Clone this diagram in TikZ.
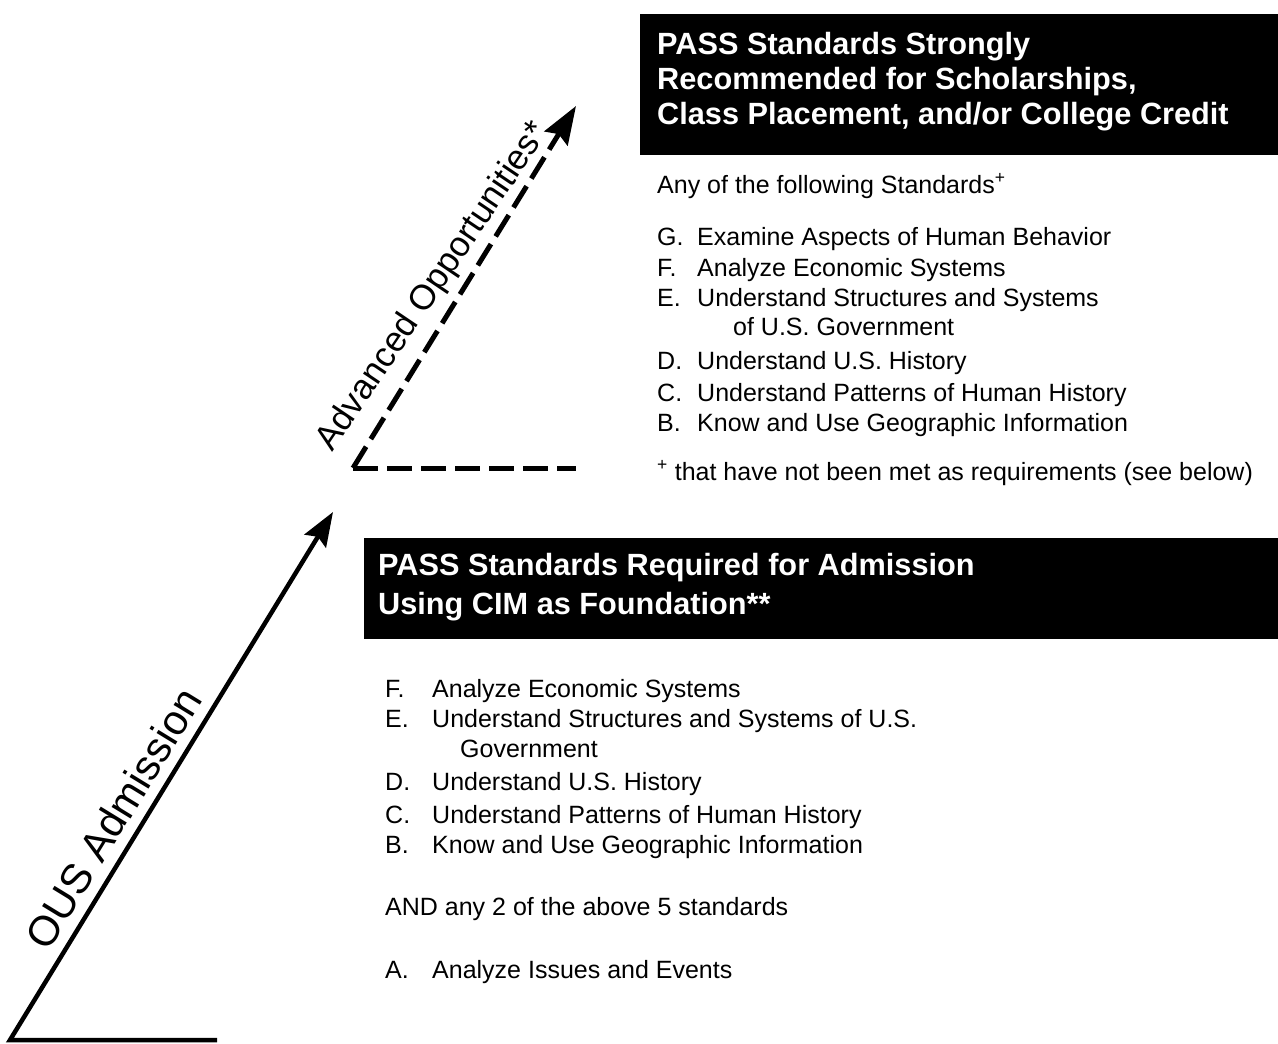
\documentclass[tikz,border=0pt]{standalone}
\usepackage{fontspec}
\setmainfont{Liberation Sans}
\usetikzlibrary{arrows.meta}
\begin{document}
\begin{tikzpicture}[x=1pt,y=-1pt,
  txt/.style={anchor=base west, inner sep=0pt, font=\fontsize{25}{31}\selectfont},
  hdr/.style={anchor=base west, inner sep=0pt, text=white, font=\bfseries\fontsize{30.7}{35}\selectfont},
  blackbox/.style={fill=black, draw=none, anchor=north west, inner sep=0pt},
  solidarrow/.style={line width=4.5pt, line join=miter, -{Stealth[length=34pt,width=25pt,inset=5pt]}},
  dashline/.style={line width=5pt, dash pattern=on 25pt off 9pt},
  dasharrow/.style={dashline, -{Stealth[length=38pt,width=27pt,inset=5pt]}},
  rotlabel/.style={anchor=base, inner sep=0pt}
]
\useasboundingbox (0,0) rectangle (1278,1044);

% black header boxes
\node[blackbox, minimum width=638pt, minimum height=141pt] (box1) at (640,14) {};
\node[blackbox, minimum width=914pt, minimum height=101pt] (box2) at (364,538) {};

% top header
\node[hdr] (h1a) at (657,54) {PASS Standards Strongly};
\node[hdr] (h1b) at (657,89) {Recommended for Scholarships,};
\node[hdr] (h1c) at (657,124) {Class Placement, and/or College Credit};

% bottom header
\node[hdr] (h2a) at (378,575) {PASS Standards Required for Admission};
\node[hdr] (h2b) at (378,614) {Using CIM as Foundation**};

% top list
\node[txt] (any) at (657,193) {Any of the following Standards\textsuperscript{+}};
\node[txt] (tGl) at (657,245) {G.};
\node[txt] (tG)  at (697,245) {Examine Aspects of Human Behavior};
\node[txt] (tFl) at (657,276) {F.};
\node[txt] (tF)  at (697,276) {Analyze Economic Systems};
\node[txt] (tEl) at (657,306) {E.};
\node[txt] (tE)  at (697,306) {Understand Structures and Systems};
\node[txt] (tE2) at (733,335) {of U.S. Government};
\node[txt] (tDl) at (657,369) {D.};
\node[txt] (tD)  at (697,369) {Understand U.S. History};
\node[txt] (tCl) at (657,401) {C.};
\node[txt] (tC)  at (697,401) {Understand Patterns of Human History};
\node[txt] (tBl) at (657,431) {B.};
\node[txt] (tB)  at (697,431) {Know and Use Geographic Information};
\node[txt] (foot) at (657,480) {\textsuperscript{+} that have not been met as requirements (see below)};

% bottom list
\node[txt] (bFl) at (385,697) {F.};
\node[txt] (bF)  at (432,697) {Analyze Economic Systems};
\node[txt] (bEl) at (385,727) {E.};
\node[txt] (bE)  at (432,727) {Understand Structures and Systems of U.S.};
\node[txt] (bE2) at (460,757) {Government};
\node[txt] (bDl) at (385,790) {D.};
\node[txt] (bD)  at (432,790) {Understand U.S. History};
\node[txt] (bCl) at (385,823) {C.};
\node[txt] (bC)  at (432,823) {Understand Patterns of Human History};
\node[txt] (bBl) at (385,853) {B.};
\node[txt] (bB)  at (432,853) {Know and Use Geographic Information};
\node[txt] (band) at (385,915) {AND any 2 of the above 5 standards};
\node[txt] (bAl) at (385,978) {A.};
\node[txt] (bA)  at (432,978) {Analyze Issues and Events};

% solid arrow (OUS Admission)
\coordinate (s0) at (217,1040);
\coordinate (s1) at (10,1040);
\coordinate (s2) at (333,512);
\draw[solidarrow] (s0) -- (s1) -- (s2);
\node[rotlabel, rotate=58.5, font=\fontsize{42}{48}\selectfont] (ous) at (126,826) {OUS Admission};

% dashed arrow (Advanced Opportunities)
\coordinate (d0) at (576,468);
\coordinate (d1) at (353,468);
\coordinate (d2) at (576,106);
\draw[dashline] (d1) -- (d0);
\draw[dasharrow] (d1) -- (d2);
\node[rotlabel, rotate=56, font=\fontsize{35}{40}\selectfont] (adv) at (441,292) {Advanced Opportunities*};
\end{tikzpicture}
\end{document}
